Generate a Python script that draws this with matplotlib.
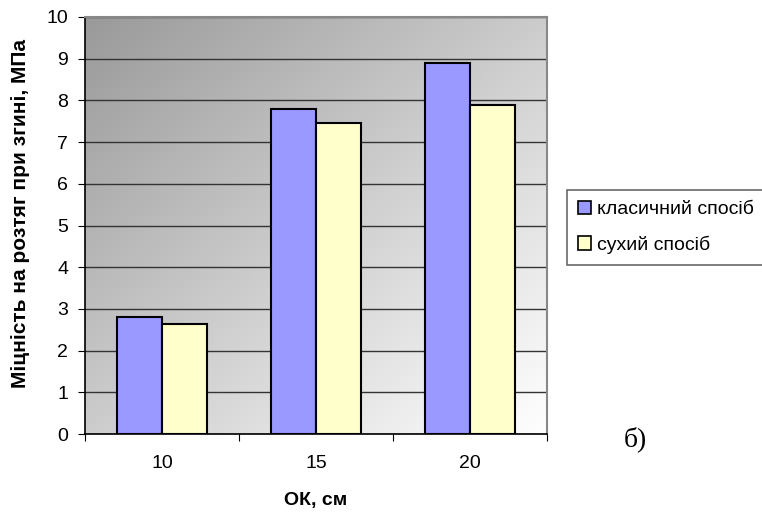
import numpy as np
import matplotlib
matplotlib.use("Agg")
import matplotlib.pyplot as plt
from matplotlib.patches import Patch

categories = ["10", "15", "20"]
classic = [2.8, 7.8, 8.9]
dry = [2.65, 7.45, 7.9]
series_names = ["класичний спосіб", "сухий спосіб"]

plt.rcParams['font.family'] = ['Liberation Sans', 'DejaVu Sans']

fig = plt.figure(figsize=(7.62, 5.12), dpi=100)
ax = fig.add_axes([0.1115, 0.152, 0.6065, 0.815])

# gradient background: grey top-left to white bottom-right
n = 256
xx, yy = np.meshgrid(np.linspace(0, 1, n), np.linspace(0, 1, n))
g = (xx + yy) / 2
ax.imshow(g, cmap='gray', vmin=-1.5, vmax=1.0, extent=[0, 1, 0, 1],
          transform=ax.transAxes, aspect='auto', zorder=0, interpolation='bicubic')

x = np.arange(len(categories))
w = 0.292
ax.bar(x - w / 2, classic, w, color='#9999FF', edgecolor='black', linewidth=1.5, zorder=3)
ax.bar(x + w / 2, dry, w, color='#FFFFCC', edgecolor='black', linewidth=1.5, zorder=3)

ax.set_xlim(-0.5, 2.5)
ax.set_ylim(0, 10)
ax.set_yticks(range(0, 11))
ax.yaxis.grid(True, color='#333333', linewidth=1, zorder=1)
ax.set_axisbelow(True)

ax.set_xticks([-0.5, 0.5, 1.5, 2.5])
ax.set_xticklabels([])
ax.set_xticks(x, minor=True)
ax.set_xticklabels(categories, minor=True)
ax.tick_params(axis='x', which='minor', length=0, pad=15, labelsize=14)
ax.tick_params(axis='x', which='major', length=5, direction='out')
ax.tick_params(axis='y', length=5, direction='out', labelsize=14, pad=7)

for s in ['top', 'right']:
    ax.spines[s].set_color('#888888')
    ax.spines[s].set_linewidth(1.5)
for s in ['left', 'bottom']:
    ax.spines[s].set_color('black')
    ax.spines[s].set_linewidth(1.2)

ax.set_ylabel("Міцність на розтяг при згині, МПа", fontsize=15, fontweight='bold')
ax.yaxis.set_label_coords(-0.12, 0.53)
ax.set_xlabel("ОК, см", fontsize=14, fontweight='bold')
ax.xaxis.set_label_coords(0.5, -0.138)

handles = [Patch(facecolor='#9999FF', edgecolor='black', linewidth=1.2),
           Patch(facecolor='#FFFFCC', edgecolor='black', linewidth=1.2)]
leg = fig.legend(handles, series_names, loc='upper left', bbox_to_anchor=(0.744, 0.629),
                 borderaxespad=0, fontsize=14, frameon=True, fancybox=False,
                 handlelength=0.7, handleheight=0.7, handletextpad=0.3,
                 labelspacing=0.9, borderpad=0.55)
leg.get_frame().set_edgecolor('#444444')
leg.get_frame().set_linewidth(1.2)

fig.text(0.834, 0.128, "б)", fontsize=20, family='Liberation Serif', ha='center')

fig.savefig("out.png", dpi=100)
